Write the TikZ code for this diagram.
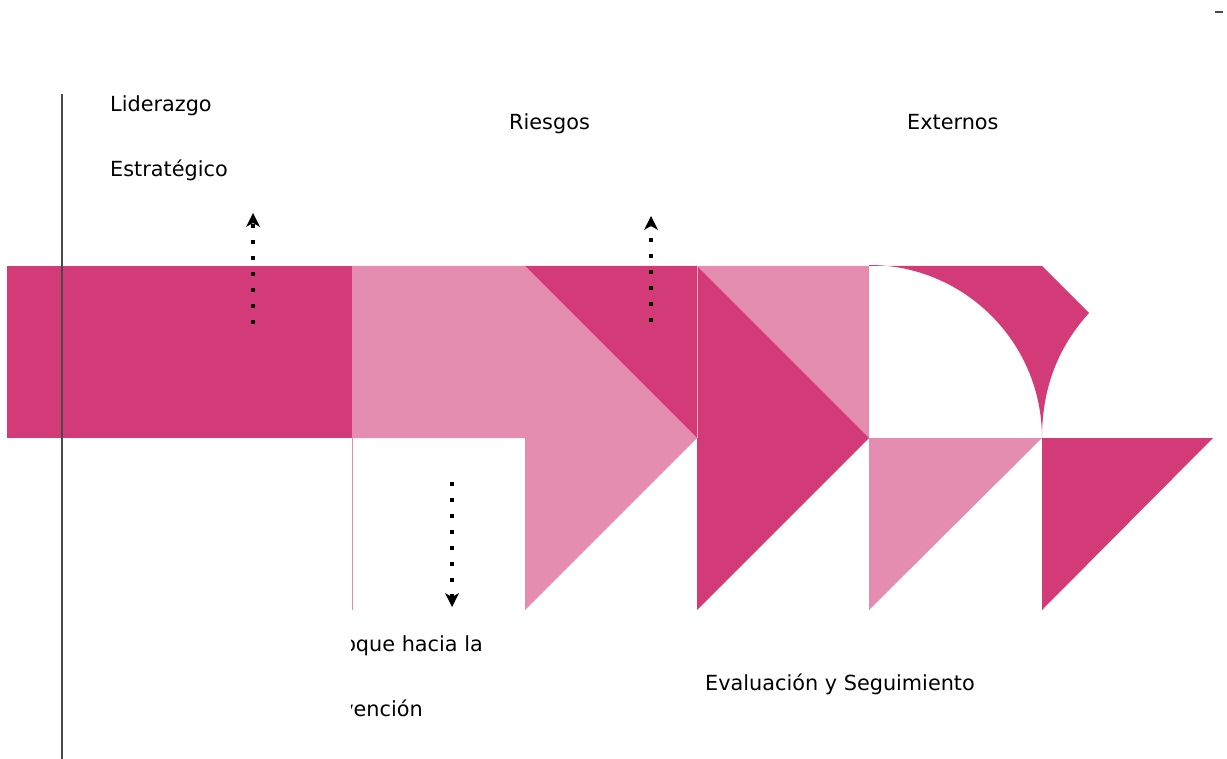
\documentclass[tikz,border=0pt]{standalone}
\usepackage{fontspec}
\setmainfont{DejaVu Sans}
\usetikzlibrary{arrows.meta}
\definecolor{darkpink}{HTML}{D33A78}
\definecolor{lightpink}{HTML}{E58DB0}
\definecolor{axisgray}{HTML}{4A4A4A}
\tikzset{
  dk/.style={fill=darkpink,draw=none},
  lt/.style={fill=lightpink,draw=none},
  lbl/.style={font=\fontsize{20.8pt}{24pt}\selectfont,inner sep=0pt,anchor=base west,text=black},
  dotarrow/.style={line width=3.6pt,dash pattern=on 3.6pt off 12.4pt,
    -{Stealth[length=14pt,width=14pt,inset=4pt,line width=0pt]}}
}
\begin{document}
\begin{tikzpicture}[x=1pt,y=-1pt]
\useasboundingbox (0,0) rectangle (1227,759);
% bands
\fill[dk] (7,266) rectangle (352,438);
\fill[lt] (352,266) -- (525,266) -- (697,438) -- (525,610) -- (525,438) -- (352,438) -- cycle;
\fill[dk] (525,266) -- (697,266) -- (697,438) -- cycle;
\fill[lt] (697,266) -- (869,266) -- (869,438) -- cycle;
\fill[dk] (697,266) -- (869,438) -- (697,610) -- cycle;
\fill[dk] (869,266) -- (1042,266) -- (1089,313)
   .. controls (1060,345) and (1042,385) .. (1042,438)
   arc[start angle=0,end angle=-90,radius=173] -- cycle;
\fill[lt] (869,438) -- (1042,438) -- (869,610) -- cycle;
\fill[dk] (1042,438) -- (1213,438) -- (1042,610) -- cycle;
\draw[lightpink,line width=0.7pt] (352,438) -- (352,610);
\draw[lightpink!70!white,line width=0.8pt] (697,266) -- (697,438);
% axis line and corner dash
\draw[axisgray,line width=1.2pt] (62,94) -- (62,759);
\draw[axisgray,line width=1.2pt] (1215,12) -- (1223,12);
% labels
\node[lbl] (lid) at (110,112) {Liderazgo};
\node[lbl] (est) at (110,177) {Estratégico};
\node[lbl] (rie) at (509,130) {Riesgos};
\node[lbl] (ext) at (907,130) {Externos};
\node[lbl] (eva) at (705,690) {Evaluación y Seguimiento};
\begin{scope}
  \clip (351,600) rectangle (600,740);
  \node[lbl,anchor=base east] (enf) at (483,651) {Enfoque hacia la};
  \node[lbl,anchor=base east] (pre) at (423,716) {Prevención};
\end{scope}
% dotted arrows
\coordinate (a1s) at (253,324); \coordinate (a1e) at (253,213);
\coordinate (a2s) at (651,322); \coordinate (a2e) at (651,216);
\coordinate (a3s) at (452,482); \coordinate (a3e) at (452,607);
\draw[dotarrow] (a1s) -- (a1e);
\draw[dotarrow] (a2s) -- (a2e);
\draw[dotarrow] (a3s) -- (a3e);
\end{tikzpicture}
\end{document}
